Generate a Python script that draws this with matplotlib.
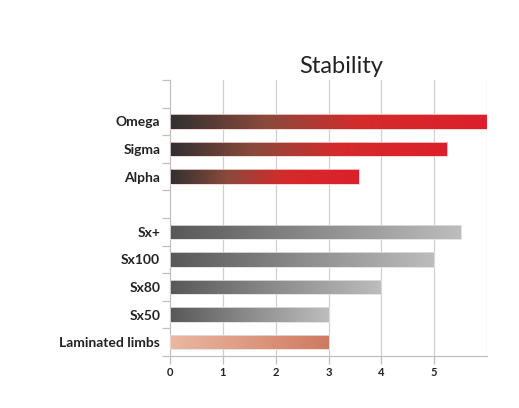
import matplotlib
matplotlib.use("Agg")
import matplotlib.pyplot as plt
from matplotlib.colors import LinearSegmentedColormap
import numpy as np

# data (top to bottom), empty string = spacer row
labels = ["", "Omega", "Sigma", "Alpha", "", "Sx+", "Sx100", "Sx80", "Sx50", "Laminated limbs"]
values = [0, 6.0, 5.25, 3.57, 0, 5.5, 5.0, 4.0, 3.0, 3.0]
groups = [None, "red", "red", "red", None, "grey", "grey", "grey", "grey", "salmon"]

cmaps = {
    "red": LinearSegmentedColormap.from_list("red", [(0, "#303030"), (0.3, "#8a4a3c"), (0.6, "#d42b2b"), (1, "#dd1f2a")]),
    "grey": LinearSegmentedColormap.from_list("grey", ["#585858", "#8c8c8c", "#bdbdbd"]),
    "salmon": LinearSegmentedColormap.from_list("salmon", ["#ebb8a0", "#d07a60"]),
}

plt.rcParams['font.family'] = ['Lato', 'DejaVu Sans']

fig = plt.figure(figsize=(5.19, 4.08), dpi=100)
ax = fig.add_axes([170 / 519, 1 - 356 / 408, 317 / 519, 276 / 408])

n = len(labels)
pos = np.arange(n)
bars = ax.barh(pos, values, height=0.52, color="none", edgecolor="none")

grad = np.linspace(0, 1, 256).reshape(1, -1)
for bar, g, v in zip(bars, groups, values):
    if g is None or v == 0:
        continue
    x0, y0 = bar.get_x(), bar.get_y()
    w, h = bar.get_width(), bar.get_height()
    im = ax.imshow(grad, cmap=cmaps[g], aspect="auto", extent=[x0, x0 + w, y0 + h, y0],
                   zorder=3, interpolation="bicubic")
    im.set_clip_path(bar)
    ax.add_patch(plt.Rectangle((x0, y0), w, h, fill=False, edgecolor="#f2d0d0" if g == "red" else "#e0e0e0",
                               linewidth=0.6, zorder=4))

ax.set_xlim(0, 6)
ax.set_ylim(n - 0.5, -0.5)

ax.set_xticks([0, 1, 2, 3, 4, 5])
ax.set_xticklabels(["0", "1", "2", "3", "4", "5"], fontsize=8, fontweight="bold", color="#222222")
for x in range(1, 7):
    ax.axvline(x, color="#d0d0d0", linewidth=0.9, zorder=0)

ax.set_yticks(pos)
ax.set_yticklabels(labels, fontsize=10, fontweight="bold", color="#222222")
ax.set_yticks(np.arange(-0.5, n, 1), minor=True)
ax.tick_params(axis="y", which="major", length=0, pad=7)
ax.tick_params(axis="y", which="minor", length=6, color="#c0c0c0", width=0.9)
ax.tick_params(axis="x", length=6, color="#c0c0c0", width=0.9, pad=2)

for s in ["top", "right"]:
    ax.spines[s].set_visible(False)
for s in ["left", "bottom"]:
    ax.spines[s].set_color("#c0c0c0")
    ax.spines[s].set_linewidth(0.9)

ax.set_title("Stability", fontsize=17, color="#222222", pad=5, x=0.54)

fig.savefig("out.png", dpi=100)
